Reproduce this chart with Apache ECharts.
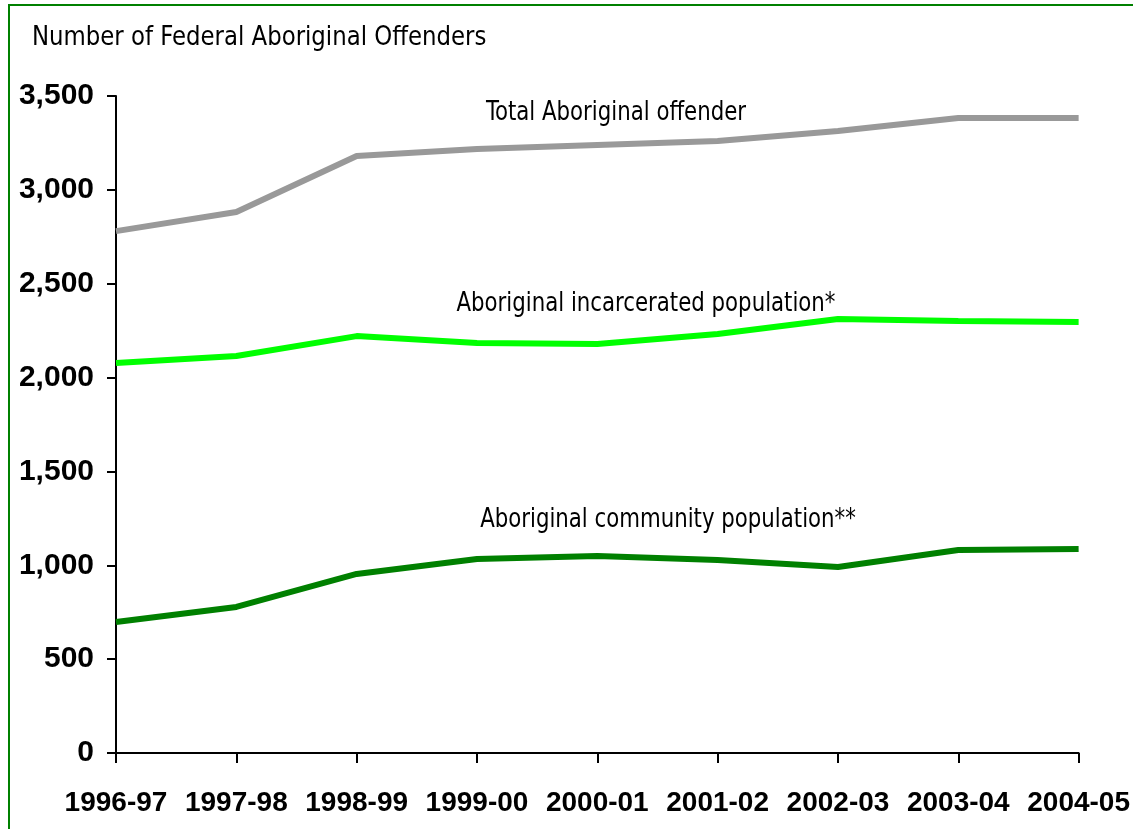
<!DOCTYPE html>
<html>
<head>
<meta charset="utf-8">
<script src="https://cdn.jsdelivr.net/npm/echarts@6/dist/echarts.min.js"></script>
<style>
  html, body { margin: 0; padding: 0; background: #fff; }
  #chart { width: 1133px; height: 829px; }
</style>
</head>
<body>
<div id="chart"></div>
<script>
var years = ['1996-97', '1997-98', '1998-99', '1999-00', '2000-01', '2001-02', '2002-03', '2003-04', '2004-05'];
var totalOffenders = [2780, 2882, 3180, 3218, 3239, 3260, 3313, 3383, 3383];
var incarcerated = [2078, 2115, 2221, 2184, 2179, 2232, 2312, 2301, 2296];
var community = [698, 778, 954, 1033, 1049, 1028, 991, 1081, 1087];

var narrow = "'Liberation Sans Narrow', 'DejaVu Sans Condensed', 'Roboto Condensed', sans-serif";

var myChart = echarts.init(document.getElementById('chart'));
myChart.setOption({
    animation: false,
    grid: { left: 116, right: 53, top: 96, bottom: 76 },
    xAxis: {
        type: 'category',
        data: years,
        boundaryGap: false,
        axisLine: { lineStyle: { color: '#000', width: 2 } },
        axisTick: { length: 10, lineStyle: { color: '#000', width: 2 } },
        axisLabel: {
            interval: 0,
            color: '#000', fontWeight: 'bold', fontSize: 28,
            fontFamily: "'Liberation Sans', Arial, sans-serif", margin: 36
        },
        splitLine: { show: false }
    },
    yAxis: {
        type: 'value',
        min: 0, max: 3500, interval: 500,
        axisLine: { show: true, lineStyle: { color: '#000', width: 2 } },
        axisTick: { show: true, length: 9, lineStyle: { color: '#000', width: 2 } },
        axisLabel: {
            color: '#000', fontWeight: 'bold', fontSize: 30,
            fontFamily: "'Liberation Sans', Arial, sans-serif", margin: 22,
            formatter: function (v) { return v.toLocaleString('en-US'); }
        },
        splitLine: { show: false }
    },
    series: [
        {
            name: 'Total Aboriginal offender', type: 'line', data: totalOffenders,
            symbol: 'none', lineStyle: { color: '#999999', width: 6 }
        },
        {
            name: 'Aboriginal incarcerated population*', type: 'line', data: incarcerated,
            symbol: 'none', lineStyle: { color: '#00ff00', width: 6 }
        },
        {
            name: 'Aboriginal community population**', type: 'line', data: community,
            symbol: 'none', lineStyle: { color: '#008000', width: 6 }
        }
    ],
    graphic: [
        {
            type: 'rect', shape: { x: 9, y: 5, width: 1140, height: 840 },
            style: { fill: 'none', stroke: '#008000', lineWidth: 2 }, silent: true
        },
        {
            type: 'text', x: 32, y: 38, scaleX: 0.94,
            style: { text: 'Number of Federal Aboriginal Offenders', fontSize: 27, fontFamily: narrow, fill: '#000', verticalAlign: 'middle' }
        },
        {
            type: 'text', x: 616, y: 113, scaleX: 0.91,
            style: { text: 'Total Aboriginal offender', fontSize: 26, fontFamily: narrow, fill: '#000', align: 'center', verticalAlign: 'middle' }
        },
        {
            type: 'text', x: 646, y: 304, scaleX: 0.91,
            style: { text: 'Aboriginal incarcerated population*', fontSize: 26, fontFamily: narrow, fill: '#000', align: 'center', verticalAlign: 'middle' }
        },
        {
            type: 'text', x: 668, y: 520, scaleX: 0.91,
            style: { text: 'Aboriginal community population**', fontSize: 26, fontFamily: narrow, fill: '#000', align: 'center', verticalAlign: 'middle' }
        }
    ]
});
</script>
</body>
</html>
